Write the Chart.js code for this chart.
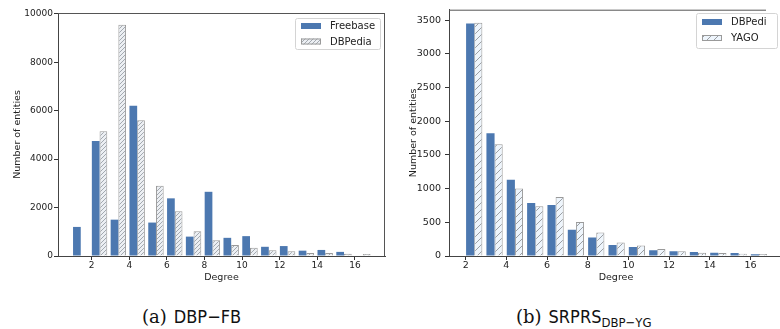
<!DOCTYPE html>
<html>
<head>
<meta charset="utf-8">
<script src="https://cdn.jsdelivr.net/npm/chart.js@4.4.0/dist/chart.umd.min.js"></script>
<style>
  html, body { margin: 0; padding: 0; background: #fff; }
  body { width: 780px; height: 329px; overflow: hidden; position: relative; }
  #wrapA { position: absolute; left: 0; top: 0; width: 390px; height: 285px; }
  #wrapB { position: absolute; left: 390px; top: 0; width: 400px; height: 285px; }
  .cap { position: absolute; top: 307px; font-size: 18px; line-height: 20px; color: #111; white-space: nowrap; }
  .cap .lbl { font-family: 'DejaVu Serif', 'Liberation Serif', serif; }
  .cap .sf { font-family: 'DejaVu Sans', sans-serif; font-stretch: condensed; margin-left: 7px; }
  .cap sub { font-size: 13px; vertical-align: -4px; margin-left: 0; }
</style>
</head>
<body>
<div id="wrapA"><canvas id="chartA" width="390" height="285"></canvas></div>
<div id="wrapB"><canvas id="chartB" width="400" height="285"></canvas></div>
<div class="cap" style="left:142px"><span class="lbl">(a)</span><span class="sf">DBP&#8722;FB</span></div>
<div class="cap" style="left:516px"><span class="lbl">(b)</span><span class="sf">SRPRS<sub>DBP&#8722;YG</sub></span></div>

<script>
// ---- data ----
var degreesA = [1, 2, 3, 4, 5, 6, 7, 8, 9, 10, 11, 12, 13, 14, 15, 16];
var freebase = [1200, 4750, 1500, 6200, 1380, 2380, 800, 2650, 750, 820, 380, 410, 220, 250, 170, 0];
var dbpediaA = [0, 5150, 9550, 5600, 2900, 1850, 1020, 650, 450, 340, 240, 200, 120, 120, 90, 80];

var degreesB = [2, 3, 4, 5, 6, 7, 8, 9, 10, 11, 12, 13, 14, 15, 16];
var dbpediaB = [3450, 1820, 1130, 785, 755, 390, 275, 165, 135, 85, 70, 60, 50, 45, 25];
var yago     = [3460, 1660, 1000, 740, 875, 505, 350, 200, 155, 105, 70, 50, 45, 35, 30];

var xTicks  = [2, 4, 6, 8, 10, 12, 14, 16];
var yTicksA = [0, 2000, 4000, 6000, 8000, 10000];
var yTicksB = [0, 500, 1000, 1500, 2000, 2500, 3000, 3500];

var BLUE = '#4c78b0';
var INK = '#222';

// bars sit on the right of each integer degree (histogram style)
function pts(xs, ys) {
  return xs.map(function (d, i) { return { x: d + 0.42, y: ys[i] }; });
}

function hatch(canvas, bg, line, step, lw) {
  var c = document.createElement('canvas');
  c.width = step; c.height = step;
  var g = c.getContext('2d');
  g.fillStyle = bg;
  g.fillRect(0, 0, step, step);
  g.strokeStyle = line;
  g.lineWidth = lw;
  g.beginPath();
  g.moveTo(-1, step + 1); g.lineTo(step + 1, -1);
  g.moveTo(-step / 2 - 1, step / 2 + 1); g.lineTo(step / 2 + 1, -step / 2 - 1);
  g.moveTo(step / 2 - 1, step * 1.5 + 1); g.lineTo(step * 1.5 + 1, step / 2 - 1);
  g.stroke();
  return canvas.getContext('2d').createPattern(c, 'repeat');
}

// top/right spines like matplotlib
var spines = {
  id: 'spines',
  afterDraw: function (chart, args, o) {
    var ctx = chart.ctx, a = chart.chartArea;
    var xr = Math.min(a.right, o.clipX || a.right);
    ctx.save();
    ctx.strokeStyle = '#555';
    ctx.lineWidth = 1;
    ctx.beginPath();
    ctx.moveTo(a.left, a.top + 0.5); ctx.lineTo(xr, a.top + 0.5);
    ctx.moveTo(a.right - 0.5, a.top); ctx.lineTo(a.right - 0.5, a.bottom);
    ctx.stroke();
    ctx.restore();
  }
};

// boxed legend inside the plot, top right
var boxLegend = {
  id: 'boxLegend',
  afterDraw: function (chart, args, o) {
    var ctx = chart.ctx;
    ctx.save();
    ctx.fillStyle = 'rgba(255,255,255,0.85)';
    ctx.strokeStyle = '#d4d4d4';
    ctx.lineWidth = 1;
    ctx.beginPath();
    ctx.roundRect(o.x + 0.5, o.y + 0.5, o.w, o.h, 2);
    ctx.fill();
    ctx.stroke();
    if (o.clipX) {
      ctx.beginPath();
      ctx.rect(0, 0, o.clipX, chart.height);
      ctx.clip();
    }
    chart.data.datasets.forEach(function (ds, i) {
      var y = o.y + o.top + i * o.row;
      ctx.fillStyle = ds.backgroundColor;
      ctx.fillRect(o.x + 6, y, 20, 6);
      if (ds.borderWidth) {
        ctx.strokeStyle = ds.borderColor;
        ctx.strokeRect(o.x + 6.5, y + 0.5, 19, 5);
      }
      ctx.fillStyle = INK;
      ctx.font = o.size + 'px "DejaVu Sans"';
      ctx.textBaseline = 'middle';
      ctx.fillText(ds.label, o.x + 35, y + 3.5);
    });
    ctx.restore();
  }
};

function plain(v) { return String(v); }

function scales(c) {
  return {
    x: {
      type: 'linear', min: c.xmin, max: c.xmax, offset: false,
      afterBuildTicks: function (s) { s.ticks = xTicks.map(function (v) { return { value: v }; }); },
      afterFit: function (s) { s.height = 29; },
      grid: { offset: false, drawOnChartArea: false, tickLength: 4, color: '#333' },
      border: { color: '#444', width: 1 },
      ticks: { color: INK, padding: 0, maxRotation: 0, autoSkip: false, callback: plain, font: { family: 'DejaVu Sans', size: c.fs } },
      title: { display: true, text: 'Degree', color: INK, padding: { top: 0, bottom: 2 }, font: { family: 'DejaVu Sans', size: 9.5 } }
    },
    y: {
      min: 0, max: c.ymax,
      afterBuildTicks: function (s) { s.ticks = c.yTicks.map(function (v) { return { value: v }; }); },
      afterFit: function (s) { s.width = c.yw; },
      grid: { drawOnChartArea: false, tickLength: 4, color: '#333' },
      border: { color: '#444', width: 1 },
      ticks: { color: INK, padding: c.ypad, callback: plain, font: { family: 'DejaVu Sans', size: c.fs } },
      title: { display: true, text: 'Number of entities', color: INK, padding: { top: c.tpad, bottom: 0 }, font: { family: 'DejaVu Sans', size: 9.5 } }
    }
  };
}

var canA = document.getElementById('chartA');
var canB = document.getElementById('chartB');

new Chart(canA, {
  type: 'bar',
  data: {
    datasets: [
      { label: 'Freebase', data: pts(degreesA, freebase), backgroundColor: BLUE, borderWidth: 0 },
      { label: 'DBPedia', data: pts(degreesA, dbpediaA), backgroundColor: hatch(canA, '#eceff3', '#a3a9b0', 4, 1), borderColor: '#9a9a9a', borderWidth: 1 }
    ]
  },
  options: {
    responsive: false, animation: false, events: [],
    categoryPercentage: 0.82, barPercentage: 1,
    layout: { padding: { top: 13, right: 5, left: 0, bottom: 0 } },
    scales: scales({ xmin: 0.21, xmax: 17.6, ymax: 10030, yTicks: yTicksA, yw: 58, fs: 9, ypad: 1, tpad: 12 }),
    plugins: {
      legend: { display: false }, tooltip: { enabled: false },
      boxLegend: { x: 295, y: 18, w: 85, h: 31, top: 5, row: 15.5, size: 10 }
    }
  },
  plugins: [spines, boxLegend]
});

new Chart(canB, {
  type: 'bar',
  data: {
    datasets: [
      { label: 'DBPedia', data: pts(degreesB, dbpediaB), backgroundColor: BLUE, borderWidth: 0 },
      { label: 'YAGO', data: pts(degreesB, yago), backgroundColor: hatch(canB, '#eef5fc', '#9a9ea3', 7, 1), borderColor: '#9a9a9a', borderWidth: 1 }
    ]
  },
  options: {
    responsive: false, animation: false, events: [],
    categoryPercentage: 0.8, barPercentage: 1,
    layout: { padding: { top: 8, right: 7, left: 0, bottom: 0 } },
    scales: scales({ xmin: 1.18, xmax: 17.6, ymax: 3655, yTicks: yTicksB, yw: 59, fs: 9.5, ypad: 4, tpad: 18 }),
    plugins: {
      legend: { display: false }, tooltip: { enabled: false },
      spines: { clipX: 376 },
      boxLegend: { x: 306, y: 13, w: 81, h: 35, top: 6, row: 16, size: 10, clipX: 376 }
    }
  },
  plugins: [spines, boxLegend]
});
</script>
</body>
</html>
